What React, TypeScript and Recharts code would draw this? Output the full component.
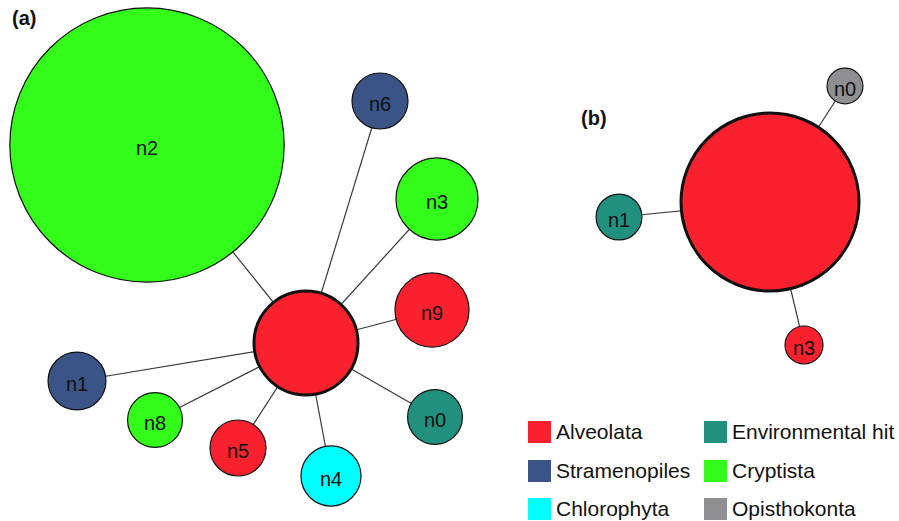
import React from 'react';
import { ScatterChart, Scatter, XAxis, YAxis, ZAxis } from 'recharts';

const TAXON_COLORS: Record<string, string> = {
  Alveolata: '#fa212f',
  'Environmental hit': '#21907f',
  Stramenopiles: '#3b5488',
  Cryptista: '#33fc1a',
  Chlorophyta: '#00fdfd',
  Opisthokonta: '#8f8f91',
};

// legend reads row by row, two columns
const LEGEND_ORDER = [
  'Alveolata',
  'Environmental hit',
  'Stramenopiles',
  'Cryptista',
  'Chlorophyta',
  'Opisthokonta',
];

// network (a): node 0 is the hub
const A_LABELS = ['', 'n2', 'n6', 'n3', 'n9', 'n0', 'n4', 'n5', 'n8', 'n1'];
const A_TAXA = [
  'Alveolata', 'Cryptista', 'Stramenopiles', 'Cryptista', 'Alveolata',
  'Environmental hit', 'Chlorophyta', 'Alveolata', 'Cryptista', 'Stramenopiles',
];
const A_COUNTS = [345, 2400, 100, 215, 175, 96, 115, 100, 96, 107];
const A_X = [306, 147, 380, 437, 432, 435, 331, 238, 155, 77];
const A_Y = [343, 145, 101, 199, 310, 417, 476, 448, 420, 381];
const A_EDGES: [number, number][] = [
  [0, 1], [0, 2], [0, 3], [0, 4], [0, 5], [0, 6], [0, 7], [0, 8], [0, 9],
];

// network (b)
const B_LABELS = ['', 'n0', 'n1', 'n3'];
const B_TAXA = ['Alveolata', 'Opisthokonta', 'Environmental hit', 'Alveolata'];
const B_COUNTS = [1010, 41, 67, 46];
const B_X = [770, 845, 619, 804];
const B_Y = [202, 86, 217, 345];
const B_EDGES: [number, number][] = [[0, 1], [0, 2], [0, 3]];

const FONT = '"Liberation Sans", Arial, Helvetica, sans-serif';

type NodeDatum = { x: number; y: number; count: number; taxon: string; label: string };

const buildNodes = (labels: string[], taxa: string[], counts: number[], xs: number[], ys: number[]): NodeDatum[] =>
  labels.map((label, i) => ({ x: xs[i], y: ys[i], count: counts[i], taxon: taxa[i], label }));

const nodesA = buildNodes(A_LABELS, A_TAXA, A_COUNTS, A_X, A_Y);
const nodesB = buildNodes(B_LABELS, B_TAXA, B_COUNTS, B_X, B_Y);

const edgeSegments = [
  ...A_EDGES.map(([s, t]) => [nodesA[s], nodesA[t]]),
  ...B_EDGES.map(([s, t]) => [nodesB[s], nodesB[t]]),
];

const NodeShape = (props: any) => {
  const { cx, cy, width, payload } = props;
  const hub = payload.label === '';
  return (
    <g>
      <circle
        cx={cx}
        cy={cy}
        r={width / 2}
        fill={TAXON_COLORS[payload.taxon]}
        stroke="#111"
        strokeWidth={hub ? 3 : 1.2}
      />
      {!hub && (
        <text x={cx} y={cy + 10} textAnchor="middle" fontSize={20} fontFamily={FONT} fill="#111">
          {payload.label}
        </text>
      )}
    </g>
  );
};

const NoPoint = () => <g />;

const PanelTag = ({ text, left, top }: { text: string; left: number; top: number }) => (
  <div style={{ position: 'absolute', left, top, fontFamily: FONT, fontWeight: 700, fontSize: 20, lineHeight: '24px', color: '#111' }}>
    {text}
  </div>
);

export default function App() {
  return (
    <div style={{ position: 'absolute', left: 0, top: 0, width: 899, height: 521, background: '#fff' }}>
      <ScatterChart width={899} height={521} margin={{ top: 0, right: 0, bottom: 0, left: 0 }}>
        <XAxis type="number" dataKey="x" domain={[0, 899]} hide allowDataOverflow />
        <YAxis type="number" dataKey="y" domain={[0, 521]} reversed hide allowDataOverflow />
        <ZAxis type="number" dataKey="count" domain={[0, 2400]} range={[0, 59112]} />
        {edgeSegments.map((seg, i) => (
          <Scatter
            key={`edge-${i}`}
            data={seg}
            line={{ stroke: '#3a3a3a', strokeWidth: 1.2 }}
            shape={NoPoint}
            legendType="none"
            isAnimationActive={false}
          />
        ))}
        <Scatter data={nodesA} shape={NodeShape} isAnimationActive={false} />
        <Scatter data={nodesB} shape={NodeShape} isAnimationActive={false} />
      </ScatterChart>

      <PanelTag text="(a)" left={12} top={6} />
      <PanelTag text="(b)" left={581} top={106} />

      <div
        style={{
          position: 'absolute',
          left: 528,
          top: 413,
          display: 'grid',
          gridTemplateColumns: '176px auto',
          gridAutoRows: '38.5px',
          fontFamily: FONT,
          fontSize: 21,
          color: '#111',
        }}
      >
        {LEGEND_ORDER.map((taxon) => (
          <div key={taxon} style={{ display: 'flex', alignItems: 'center', whiteSpace: 'nowrap' }}>
            <span style={{ width: 23, height: 22, background: TAXON_COLORS[taxon], marginRight: 5, flex: 'none' }} />
            <span>{taxon}</span>
          </div>
        ))}
      </div>
    </div>
  );
}
